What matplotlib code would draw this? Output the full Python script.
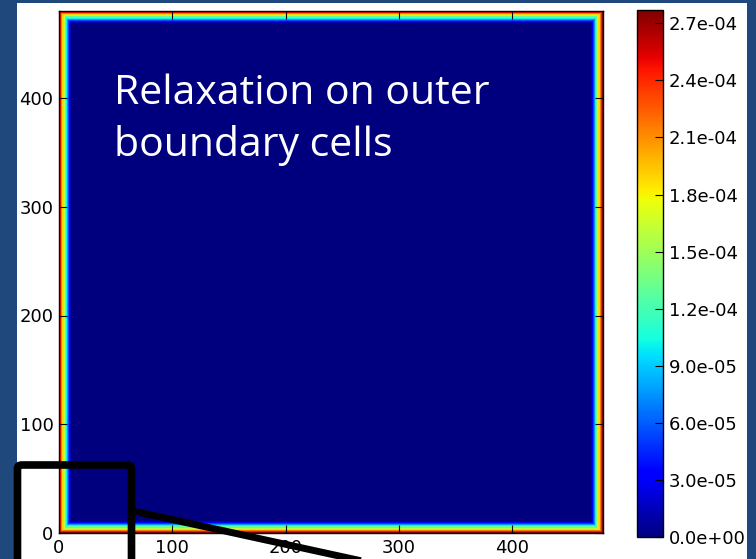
import numpy as np
import matplotlib
matplotlib.use("Agg")
import matplotlib.pyplot as plt
from matplotlib.patches import Rectangle, FancyBboxPatch
from matplotlib.lines import Line2D

# grid size and relaxation weight profile (cell 0 = outermost boundary cell)
N = 480
edge_profile = [2.72e-4, 2.45e-4, 2.18e-4, 1.88e-4, 1.58e-4, 1.28e-4,
                1.02e-4, 7.6e-5, 5.2e-5, 3.2e-5, 1.4e-5]
vmax = 2.77e-4
cbar_ticks = [0.0, 3.0e-5, 6.0e-5, 9.0e-5, 1.2e-4, 1.5e-4, 1.8e-4, 2.1e-4, 2.4e-4, 2.7e-4]
axis_ticks = [0, 100, 200, 300, 400]
title = "Relaxation on outer\nboundary cells"

# build the field: value depends on distance (in cells) to the nearest edge
idx = np.arange(N)
dist = np.minimum.outer(np.minimum(idx, N - 1 - idx), np.minimum(idx, N - 1 - idx))
prof = np.zeros(N)
prof[:len(edge_profile)] = edge_profile
field = prof[dist]

W, H = 756, 559
fig = plt.figure(figsize=(W / 100, H / 100), dpi=100, facecolor="#1F497D")
fig.patches.append(Rectangle((17 / W, 0), 730 / W, 556 / H, transform=fig.transFigure,
                             facecolor="white", edgecolor="none", zorder=-10))

ax = fig.add_axes([59 / W, 26 / H, 544 / W, 522 / H])
im = ax.imshow(field, cmap="jet", vmin=0, vmax=vmax, origin="lower",
               extent=[0, N, 0, N], aspect="auto", interpolation="nearest")
ax.set_xticks(axis_ticks)
ax.set_yticks(axis_ticks)
ax.tick_params(direction="in", top=True, right=True, length=6, width=0.8,
               labelsize=13, colors="black", pad=4)
for s in ax.spines.values():
    s.set_edgecolor("black"); s.set_linewidth(1.0)

ax.text(55 / 544, 1 - 63 / 522, title, transform=ax.transAxes, color="white",
        fontsize=29.5, family="Open Sans", va="top", ha="left", linespacing=1.34)

cax = fig.add_axes([637 / W, 22 / H, 26 / W, 527 / H])
cb = fig.colorbar(im, cax=cax, ticks=cbar_ticks, format="%.1e")
cb.ax.tick_params(direction="in", length=6, width=0.8, labelsize=13, pad=4)
cb.outline.set_edgecolor("black"); cb.outline.set_linewidth(1.0)

# callout frame on the lower-left corner and its leader line
fig.patches.append(FancyBboxPatch((17.5 / W, -30 / H), 114 / W, 124 / H,
                                  boxstyle="round,pad=0,rounding_size=0.006",
                                  transform=fig.transFigure, facecolor="none",
                                  edgecolor="black", linewidth=5.5, zorder=5))
fig.lines.append(Line2D([133 / W, 362 / W], [(H - 511) / H, (H - 561) / H],
                        transform=fig.transFigure, color="black", linewidth=5, zorder=5))

fig.savefig("out.png", dpi=100, facecolor=fig.get_facecolor())
